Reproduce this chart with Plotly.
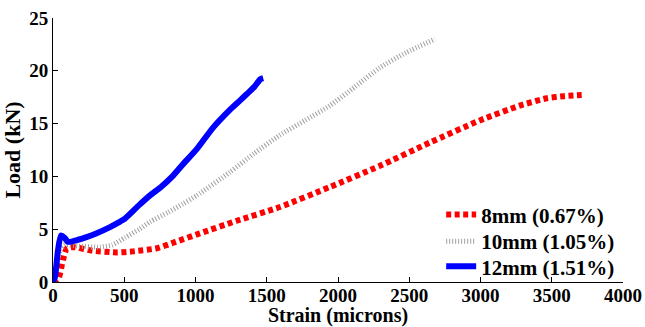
import plotly.graph_objects as go

strain_8 = [0, 35, 70, 98, 152, 260, 448, 562, 730, 860, 1030, 1290, 1592, 1943, 2294, 2644, 2995, 3275, 3465, 3585, 3710]
load_8 = [0, 0.2, 2.1, 3.2, 3.3, 3.0, 2.8, 2.9, 3.2, 3.8, 4.6, 5.8, 7.1, 9.0, 11.0, 13.2, 15.3, 16.7, 17.4, 17.6, 17.7]

strain_10 = [0, 20, 50, 81, 176, 330, 415, 505, 606, 681, 808, 912, 1010, 1241, 1414, 1592, 1768, 1943, 2121, 2294, 2475, 2680]
load_10 = [0, 1.5, 3.0, 3.5, 3.4, 3.3, 3.5, 4.2, 5.0, 5.7, 6.6, 7.4, 8.2, 10.4, 12.2, 13.9, 15.3, 16.7, 18.5, 20.3, 21.7, 23.0]

strain_12 = [0, 14, 35, 56, 81, 105, 176, 303, 400, 455, 505, 606, 681, 758, 838, 909, 1010, 1122, 1241, 1313, 1360, 1414, 1455, 1475]
load_12 = [0, 0.5, 3.0, 4.4, 4.2, 3.8, 4.0, 4.6, 5.2, 5.6, 6.0, 7.3, 8.2, 9.0, 10.0, 11.1, 12.6, 14.6, 16.3, 17.2, 17.8, 18.5, 19.2, 19.3]

names = ["8mm (0.67%)", "10mm (1.05%)", "12mm (1.51%)"]
x_ticks = [0, 500, 1000, 1500, 2000, 2500, 3000, 3500, 4000]
y_ticks = [0, 5, 10, 15, 20, 25]

fig = go.Figure()
fig.add_trace(go.Scatter(x=strain_8, y=load_8, mode="lines", name=names[0], legend="legend",
                         line=dict(color="#ff0000", width=6, dash="5px,3.5px", shape="spline", smoothing=0.6)))
fig.add_trace(go.Scatter(x=strain_10, y=load_10, mode="lines", name=names[1], legend="legend2",
                         line=dict(color="#a0a0a0", width=5, dash="1px,2px", shape="spline", smoothing=0.6)))
fig.add_trace(go.Scatter(x=strain_12, y=load_12, mode="lines", name=names[2], legend="legend3",
                         line=dict(color="#0000ff", width=6, shape="spline", smoothing=0.6)))

ff = "Liberation Serif"
leg_font = dict(family=ff, size=21, weight="bold", color="black")


def leg(yc):
    return dict(x=0.681, y=yc, xanchor="left", yanchor="middle",
                bgcolor="rgba(0,0,0,0)", font=leg_font, itemwidth=30)


fig.update_layout(
    width=645, height=327,
    margin=dict(l=53, r=22, t=18, b=45),
    paper_bgcolor="white", plot_bgcolor="white",
    font=dict(family=ff, size=20, color="black", weight="bold"),
    showlegend=True,
    legend=leg(0.254),
    legend2=leg(0.153),
    legend3=leg(0.058),
    xaxis=dict(range=[0, 4000], tickvals=x_ticks, automargin=False,
               ticks="inside", ticklen=5, tickcolor="black", showline=True, linecolor="black",
               linewidth=1, showgrid=False, zeroline=False, ticklabeloverflow="allow",
               ticklabelstandoff=-4,
               tickfont=dict(family=ff, size=19, weight="bold", color="black"),
               title=dict(text="Strain (microns)", font=dict(family=ff, size=20, weight="bold", color="black"), standoff=1)),
    yaxis=dict(range=[0, 25], tickvals=y_ticks, automargin=False,
               ticks="inside", ticklen=5, tickcolor="black", showline=True, linecolor="black",
               linewidth=1, showgrid=False, zeroline=False,
               tickfont=dict(family=ff, size=19, weight="bold", color="black"),
               title=dict(text="Load (kN)", font=dict(family=ff, size=22, weight="bold", color="black"), standoff=4)),
)

fig.write_html("out.html")
